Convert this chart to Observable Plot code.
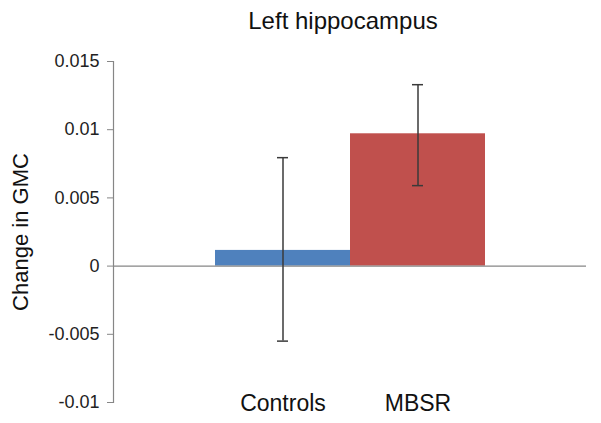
<!DOCTYPE html>
<html>
<head>
<meta charset="utf-8">
<script src="https://cdn.jsdelivr.net/npm/d3@7"></script>
<script src="https://cdn.jsdelivr.net/npm/@observablehq/plot@0.6"></script>
<style>
  html, body { margin: 0; padding: 0; background: #fff; }
  #chart { width: 601px; height: 423px; }
  svg { font-family: "Liberation Sans", Arial, sans-serif; }
</style>
</head>
<body>
<div id="chart"></div>
<script>
const title = "Left hippocampus";
const yLabel = "Change in GMC";
const categories = ["Controls", "MBSR"];
const means = [0.00115, 0.0097];
const errLow = [-0.0055, 0.0059];
const errHigh = [0.00795, 0.0133];
const barColors = ["#4F81BD", "#C0504D"];
const yTicks = [-0.01, -0.005, 0, 0.005, 0.01, 0.015];
const yTickLabels = ["-0.01", "-0.005", "0", "0.005", "0.01", "0.015"];

const rows = categories.map((c, i) => ({
  group: c, mean: means[i], lo: errLow[i], hi: errHigh[i], color: barColors[i]
}));

const chart = Plot.plot({
  width: 601,
  height: 423,
  marginLeft: 113,
  marginRight: 15,
  marginTop: 61,
  marginBottom: 21,
  style: { fontFamily: "Liberation Sans, Arial, sans-serif", background: "#fff" },
  x: { domain: categories, paddingInner: 0, paddingOuter: 0.75 },
  y: { domain: [-0.01, 0.015] },
  marks: [
    Plot.frame({ anchor: "left", stroke: "#868686", strokeWidth: 1.2 }),
    Plot.barY(rows, { x: "group", y: "mean", fill: "color" }),
    Plot.ruleY([0], { stroke: "#868686", strokeWidth: 1.2 }),
    Plot.ruleX(rows, { x: "group", y1: "lo", y2: "hi", stroke: "#3a3a3a", strokeWidth: 1.5 }),
    Plot.tickY(rows, { x: "group", y: "lo", stroke: "#3a3a3a", strokeWidth: 1.5, insetLeft: 62, insetRight: 62 }),
    Plot.tickY(rows, { x: "group", y: "hi", stroke: "#3a3a3a", strokeWidth: 1.5, insetLeft: 62, insetRight: 62 }),
    Plot.axisY({
      ticks: yTicks,
      tickFormat: (d) => yTickLabels[yTicks.indexOf(d)],
      tickSize: 6,
      tickPadding: 8,
      stroke: "#868686",
      fill: "#222",
      fontSize: 18,
      label: null
    }),
    Plot.axisX({
      anchor: "bottom",
      tickSize: 0,
      tickPadding: 0,
      dy: -8,
      fontSize: 23,
      fill: "#111",
      label: null
    }),
    Plot.text([title], { frameAnchor: "top", dy: -40, dx: -7, fontSize: 24, fill: "#111", lineAnchor: "middle" }),
    Plot.text([yLabel], { frameAnchor: "left", dx: -93, rotate: -90, fontSize: 22, fill: "#111", lineAnchor: "middle", textAnchor: "middle" })
  ]
});
document.getElementById("chart").appendChild(chart);
</script>
</body>
</html>
